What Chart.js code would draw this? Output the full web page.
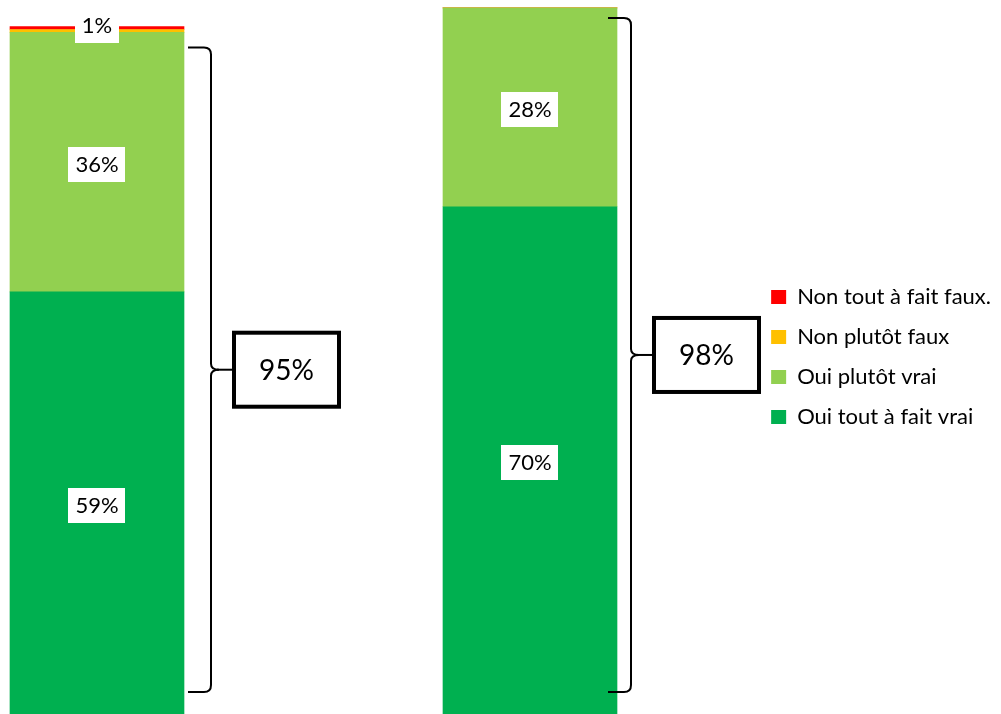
<!DOCTYPE html>
<html>
<head>
<meta charset="utf-8">
<script src="https://cdn.jsdelivr.net/npm/chart.js@4/dist/chart.umd.min.js"></script>
<style>
  html, body { margin: 0; padding: 0; background: #fff; }
  #wrap { width: 1001px; height: 714px; }
</style>
</head>
<body>
<div id="wrap"><canvas id="myChart"></canvas></div>
<script>
// two groups (bars), values in %
const groups = [0, 1];
const toutVrai = [58.6, 70.4];   // Oui tout à fait vrai
const plutotVrai = [36, 27.6];   // Oui plutôt vrai
const plutotFaux = [0.4, 0];     // Non plutôt faux
const toutFaux = [0.4, 0];       // Non tout à fait faux.
const seriesNames = ['Oui tout à fait vrai', 'Oui plutôt vrai', 'Non plutôt faux', 'Non tout à fait faux.'];
const seriesColors = ['#00B050', '#92D050', '#FFC000', '#FF0000'];

const FONT = 'Lato, "Liberation Sans", sans-serif';

// bracket look per bar: x of vertical line from bar right edge, start of top arm, top inset
const braceGeom = [
    {dx: 27, arm: 4, top: 15},
    {dx: 14, arm: -9, top: 10}
];

function pts(arr) {
    return arr.map((v, i) => ({x: groups[i], y: v}));
}

const labelPlugin = {
    id: 'segLabels',
    afterDatasetsDraw(chart) {
        const ctx = chart.ctx;
        ctx.save();
        ctx.font = '22px ' + FONT;
        ctx.textAlign = 'center';
        ctx.textBaseline = 'middle';
        const drawTag = (txt, x, y) => {
            const w = ctx.measureText(txt).width + 14;
            ctx.fillStyle = '#fff';
            ctx.fillRect(Math.round(x - w / 2), Math.round(y - 17), Math.round(w), 35);
            ctx.fillStyle = '#000';
            ctx.fillText(txt, x, y + 1);
        };
        // big segments
        [0, 1].forEach(di => {
            const meta = chart.getDatasetMeta(di);
            meta.data.forEach((bar, i) => {
                const v = chart.data.datasets[di].data[i].y;
                if (v >= 5) drawTag(Math.round(v) + '%', bar.x, (bar.y + bar.base) / 2 + 2);
            });
        });
        // thin top segments: one label for the sum
        groups.forEach((g, i) => {
            const s = plutotFaux[i] + toutFaux[i];
            if (s > 0) {
                const bar = chart.getDatasetMeta(3).data[i];
                drawTag(Math.round(s) + '%', bar.x, bar.y - 2);
            }
        });

        // brackets with total of the two "oui"
        const area = chart.chartArea;
        groups.forEach((g, i) => {
            const bar = chart.getDatasetMeta(1).data[i];
            const geo = braceGeom[i];
            const right = bar.x + bar.width / 2;
            const xv = right + geo.dx;
            const x0 = right + geo.arm;
            const yT = bar.y + geo.top;
            const yB = area.bottom - 22;
            const mid = (yT + yB) / 2;
            const r = 7;
            ctx.strokeStyle = '#000';
            ctx.lineWidth = 2;
            ctx.beginPath();
            ctx.moveTo(x0, yT);
            ctx.lineTo(xv - r, yT);
            ctx.quadraticCurveTo(xv, yT, xv, yT + r);
            ctx.lineTo(xv, mid - 6);
            ctx.quadraticCurveTo(xv, mid, xv + 8, mid);
            ctx.quadraticCurveTo(xv, mid, xv, mid + 6);
            ctx.lineTo(xv, yB - r);
            ctx.quadraticCurveTo(xv, yB, xv - r, yB);
            ctx.lineTo(x0, yB);
            ctx.stroke();
            ctx.beginPath();
            ctx.moveTo(xv + 6, mid);
            ctx.lineTo(xv + 21, mid);
            ctx.stroke();

            const bx = xv + 23, bw = 105, bh = 74;
            ctx.fillStyle = '#fff';
            ctx.fillRect(bx, mid - bh / 2, bw, bh);
            ctx.lineWidth = 4;
            ctx.strokeRect(bx, mid - bh / 2, bw, bh);
            const tot = toutVrai[i] + plutotVrai[i];
            ctx.fillStyle = '#000';
            ctx.font = '28px ' + FONT;
            ctx.fillText(Math.round(tot) + '%', bx + bw / 2, mid + 1);
            ctx.font = '22px ' + FONT;
        });
        ctx.restore();
    }
};

const ctx = document.getElementById('myChart').getContext('2d');
const data = {
    datasets: [toutVrai, plutotVrai, plutotFaux, toutFaux].map((arr, k) => ({
        label: seriesNames[k],
        data: pts(arr),
        backgroundColor: seriesColors[k],
        borderWidth: 0,
        barThickness: 174
    }))
};

const config = {
    type: 'bar',
    data: data,
    options: {
        responsive: true,
        maintainAspectRatio: false,
        animation: false,
        layout: {padding: {left: 0, right: 0, top: 0, bottom: 0}},
        scales: {
            x: {
                type: 'linear',
                display: false,
                stacked: true,
                offset: false,
                bounds: 'data',
                afterDataLimits: (scale) => {
                    // 433px between the two bars, first bar centred at 97px
                    scale.min = -97 / 433;
                    scale.max = scale.min + scale.width / 433;
                }
            },
            y: {
                display: false,
                stacked: true,
                min: 0,
                max: 99.1
            }
        },
        plugins: {
            legend: {
                position: 'right',
                reverse: true,
                labels: {
                    boxWidth: 15,
                    boxHeight: 14,
                    padding: 18,
                    color: '#000',
                    font: {family: FONT, size: 22}
                }
            },
            tooltip: {enabled: false}
        }
    },
    plugins: [labelPlugin]
};
const myChart = new Chart(ctx, config);
</script>
</body>
</html>
